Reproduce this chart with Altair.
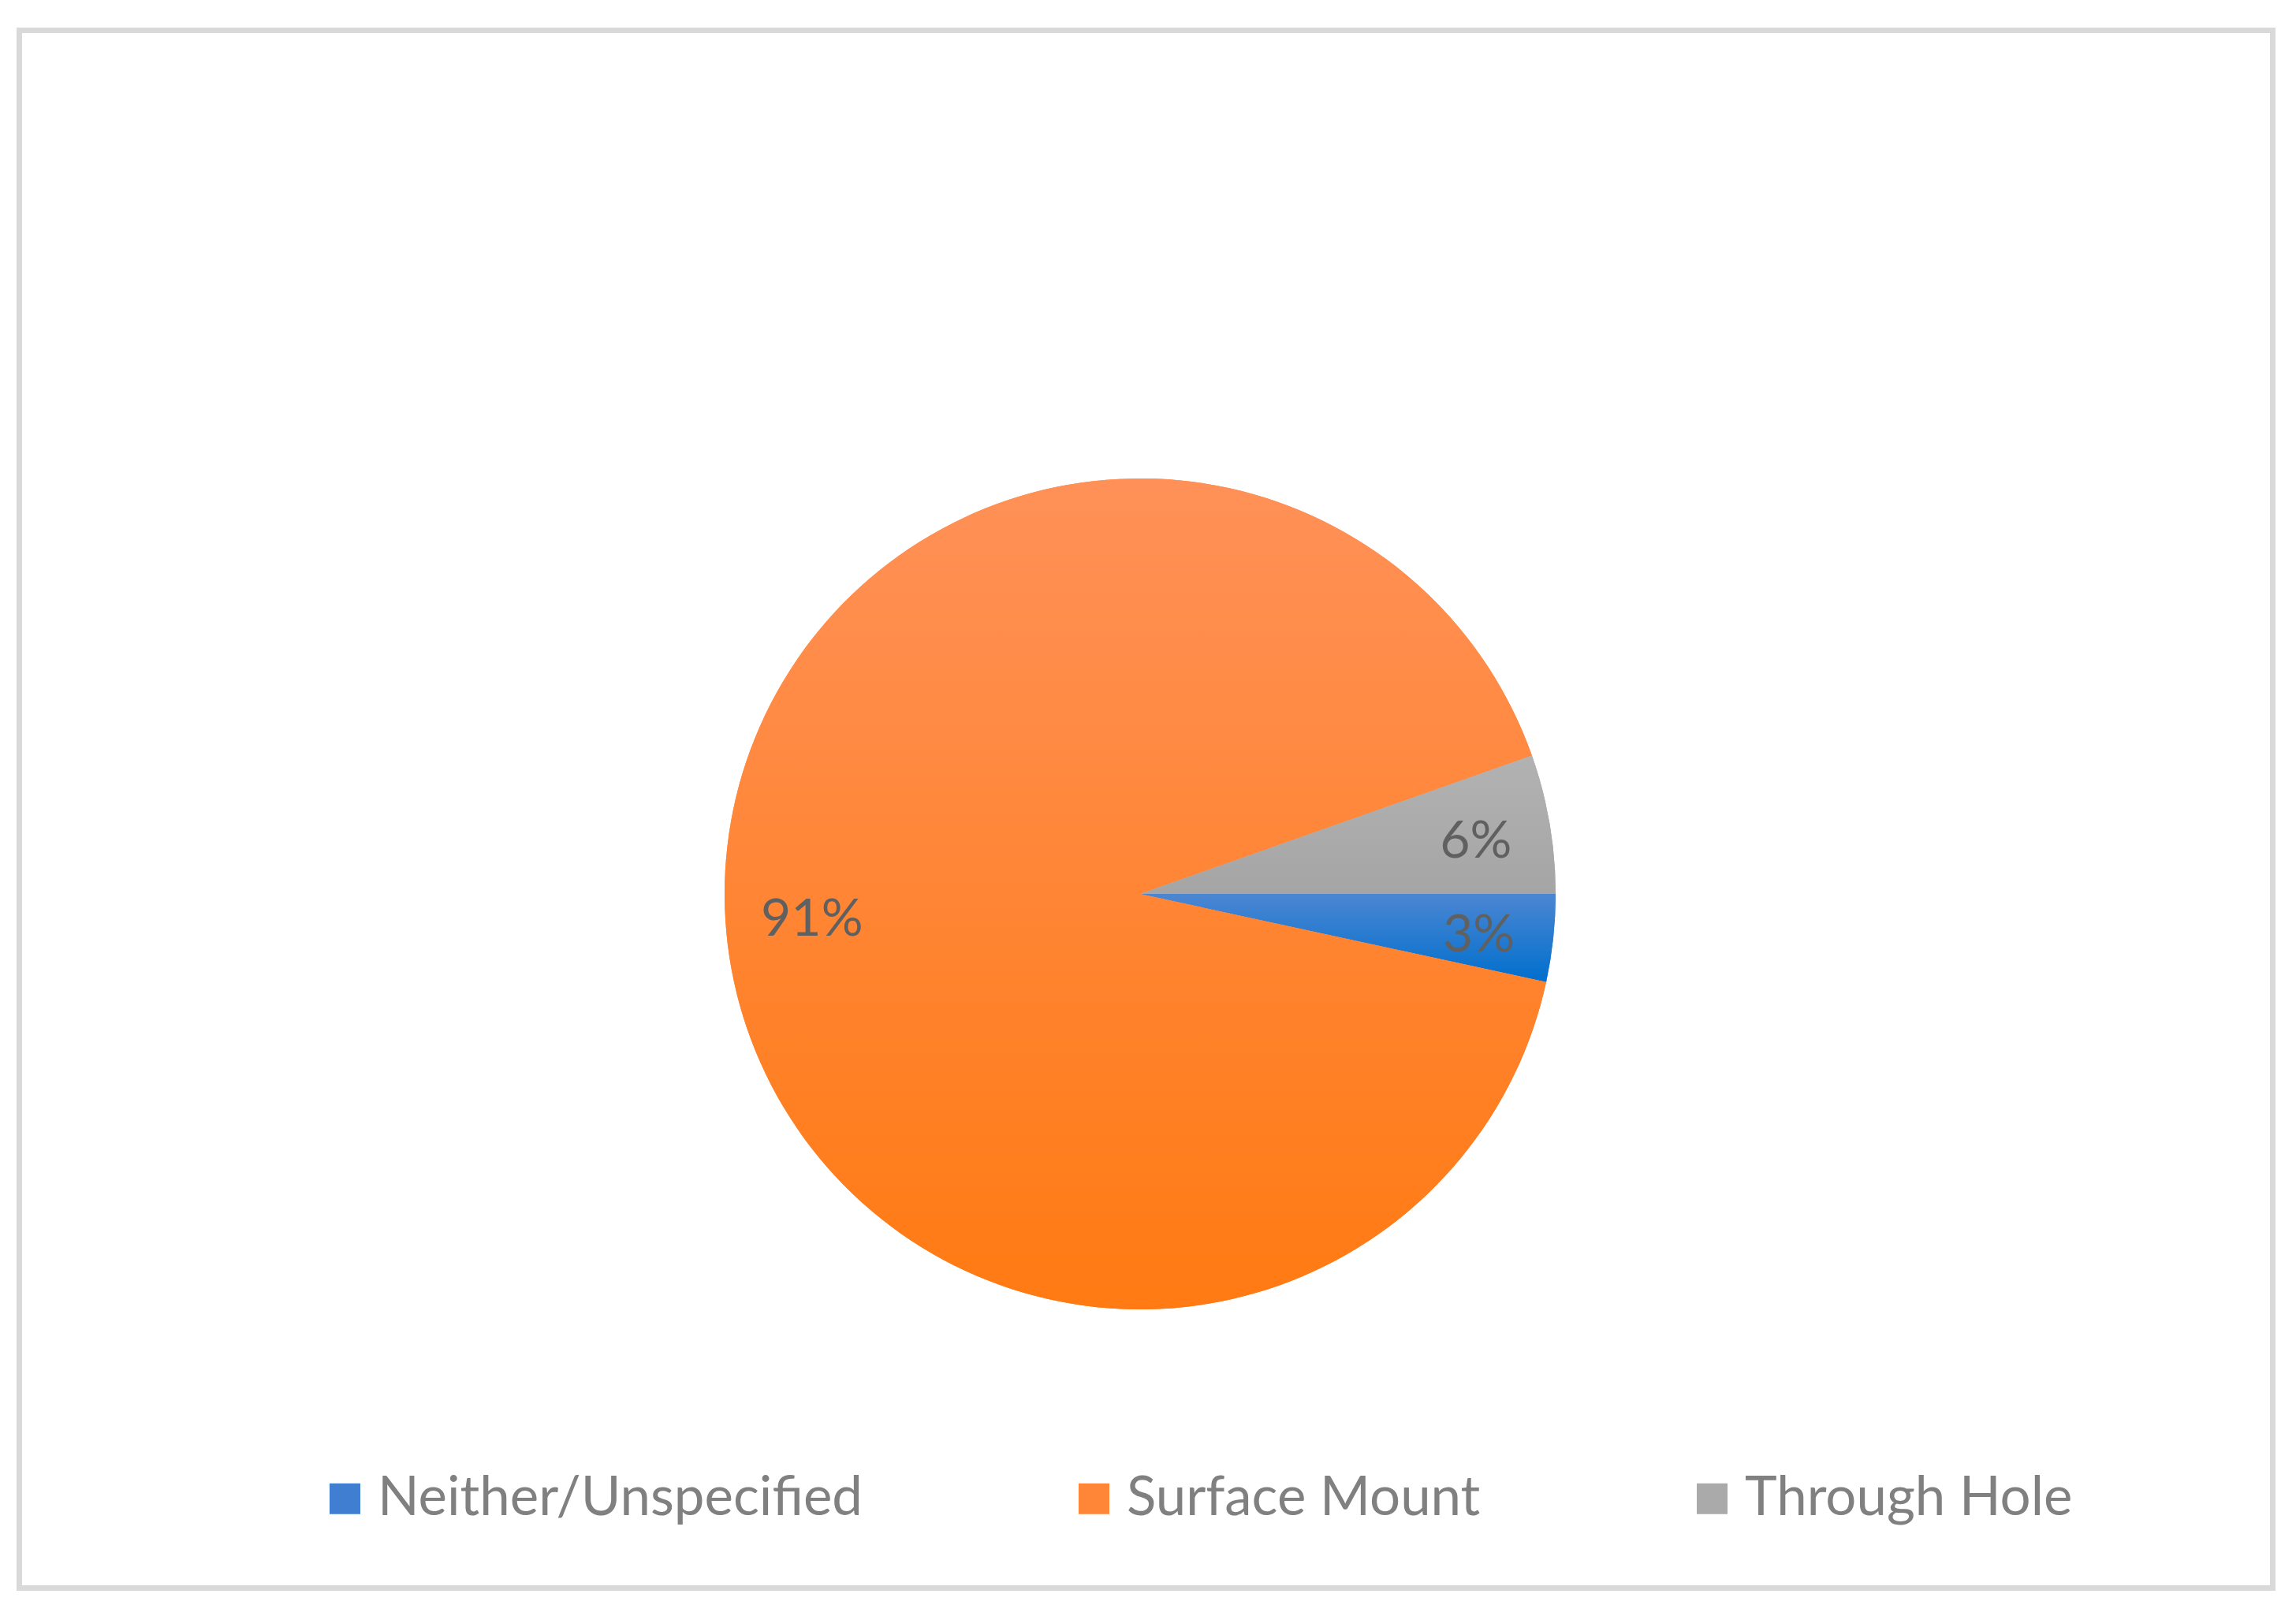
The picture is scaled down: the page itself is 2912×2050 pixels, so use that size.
import math
import altair as alt
import pandas as pd

categories = ["Neither/Unspecified", "Surface Mount", "Through Hole"]
values = [3.4, 91.2, 5.4]
labels = ["3%", "91%", "6%"]
legend_colors = ["#3F7ED0", "#FF8636", "#AAAAAA"]
gradients = {
    "Neither/Unspecified": ("#4C86D2", "#006FCD"),
    "Surface Mount": ("#FF9158", "#FF7A12"),
    "Through Hole": ("#B2B2B2", "#A5A5A5"),
}

df = pd.DataFrame({
    "category": categories,
    "value": values,
    "label": labels,
    "idx": list(range(len(categories))),
})

CX, CY = 1421.5, 1095.5
R = 527

theta_scale = alt.Scale(domain=[0, 100], range=[math.pi / 2, math.pi / 2 + 2 * math.pi])

base = alt.Chart(df).transform_window(
    cum="sum(value)", sort=[alt.SortField("idx")], frame=[None, 0]
).transform_calculate(
    start="datum.cum - datum.value",
    mid="datum.cum - datum.value / 2",
)

solid = base.mark_arc(radius=R).encode(
    x=alt.value(CX), y=alt.value(CY),
    theta=alt.Theta("start:Q", scale=theta_scale),
    theta2=alt.Theta2("cum:Q"),
    color=alt.Color(
        "category:N",
        scale=alt.Scale(domain=categories, range=legend_colors),
        legend=alt.Legend(
            orient="none", legendX=378.5, legendY=1828, direction="horizontal",
            columns=3, title=None, symbolType="square", symbolSize=1521,
            symbolStrokeWidth=0, symbolOpacity=1, labelFont="Lato",
            labelFontSize=69, labelColor="#808080", labelOffset=7,
            columnPadding=259, labelLimit=2000,
        ),
    ),
)

layers = [solid]
for cat in categories:
    top, bottom = gradients[cat]
    grad = alt.LinearGradient(
        gradient="linear", x1=0, y1=0, x2=0, y2=1,
        stops=[alt.GradientStop(color=top, offset=0), alt.GradientStop(color=bottom, offset=1)],
    )
    layers.append(
        base.mark_arc(radius=R, color=grad).encode(
            x=alt.value(CX), y=alt.value(CY),
            theta=alt.Theta("start:Q", scale=theta_scale),
            theta2=alt.Theta2("cum:Q"),
        ).transform_filter(alt.datum.category == cat)
    )

text_small = base.mark_text(radius=432, font="Lato", fontSize=66, color="#606060",
                            align="center", baseline="middle", dy=7).encode(
    x=alt.value(CX), y=alt.value(CY),
    theta=alt.Theta("mid:Q", scale=theta_scale),
    text="label:N",
).transform_filter(alt.datum.category != "Surface Mount")

text_big = base.mark_text(radius=417, font="Lato", fontSize=66, color="#606060",
                          align="center", baseline="middle", dy=7).encode(
    x=alt.value(CX), y=alt.value(CY),
    theta=alt.Theta("mid:Q", scale=theta_scale),
    text="label:N",
).transform_filter(alt.datum.category == "Surface Mount")

layers += [text_small, text_big]

chart = alt.layer(*layers).properties(
    width=2858, height=1976,
    autosize=alt.AutoSizeParams(type="none"),
    padding={"left": 16.5, "top": 30.5, "right": 21.5, "bottom": 20},
    background="white",
).configure_view(stroke="#D9D9D9", strokeWidth=7)

chart.save("out.html", embed_options={"renderer": "svg", "actions": False})
